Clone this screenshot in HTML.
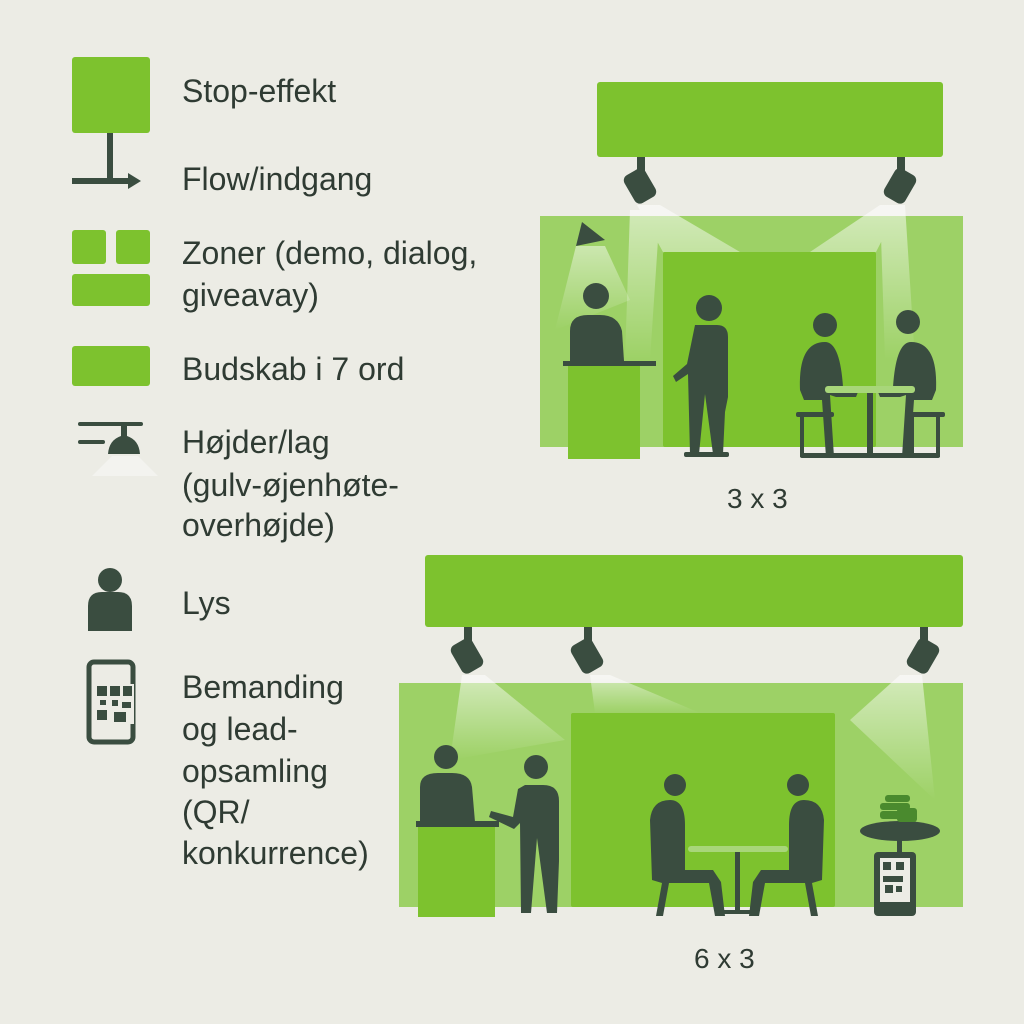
<!DOCTYPE html>
<html><head><meta charset="utf-8"><style>
body{margin:0;background:#ecece5;}
svg{display:block}
text{font-family:"Liberation Sans",sans-serif;fill:#2f3b33}
</style></head><body>
<svg width="1024" height="1024" viewBox="0 0 1024 1024">
<defs>
<linearGradient id="cone" x1="0" y1="0" x2="0" y2="1"><stop offset="0" stop-color="#fff" stop-opacity="0.8"/><stop offset="1" stop-color="#fff" stop-opacity="0"/></linearGradient>
</defs>
<rect width="1024" height="1024" fill="#ecece5"/>
<rect x="72" y="57" width="78" height="76" rx="3" fill="#7dc22e"/>
<rect x="107" y="133" width="6" height="48" fill="#3a4d40"/>
<rect x="72" y="178" width="58" height="6" fill="#3a4d40"/>
<path d="M128 173 L141 181 L128 189Z" fill="#3a4d40"/>
<rect x="72" y="230" width="34" height="34" rx="3" fill="#7dc22e"/>
<rect x="116" y="230" width="34" height="34" rx="3" fill="#7dc22e"/>
<rect x="72" y="274" width="78" height="32" rx="3" fill="#7dc22e"/>
<rect x="72" y="346" width="78" height="40" rx="3" fill="#7dc22e"/>
<rect x="78" y="422" width="65" height="4" rx="2" fill="#3a4d40"/>
<rect x="78" y="440" width="27" height="4" rx="2" fill="#3a4d40"/>
<path d="M121 426 h6 v10 q12 4 13 18 h-32 q1-14 13-18z" fill="#3a4d40"/>
<path d="M112 456 h26 l20 20 h-66z" fill="#fff" opacity="0.4"/>
<circle cx="110" cy="580" r="12" fill="#3a4d40"/>
<path d="M88 631 v-25 q0-14 14-14 h16 q14 0 14 14 v25z" fill="#3a4d40"/>
<rect x="89" y="662" width="44" height="80" rx="5" fill="none" stroke="#3a4d40" stroke-width="5"/>
<rect x="96" y="684" width="38" height="40" fill="#ecece5"/>
<g fill="#3a4d40"><rect x="97" y="686" width="10" height="10"/><rect x="110" y="686" width="10" height="10"/><rect x="123" y="686" width="9" height="10"/><rect x="97" y="710" width="10" height="10"/><rect x="112" y="700" width="6" height="6"/><rect x="122" y="702" width="9" height="6"/><rect x="114" y="712" width="12" height="10"/><rect x="100" y="700" width="6" height="5"/></g>
<rect x="106" y="734" width="10" height="3" fill="#ecece5"/>
<g font-size="32">
<text x="182" y="102">Stop-effekt</text>
<text x="182" y="190">Flow/indgang</text>
<text x="182" y="264">Zoner (demo, dialog,</text>
<text x="182" y="306">giveavay)</text>
<text x="182" y="380">Budskab i 7 ord</text>
<text x="182" y="453">Højder/lag</text>
<text x="182" y="496">(gulv-øjenhøte-</text>
<text x="182" y="536">overhøjde)</text>
<text x="182" y="614">Lys</text>
<text x="182" y="698">Bemanding</text>
<text x="182" y="740">og lead-</text>
<text x="182" y="782">opsamling</text>
<text x="182" y="823">(QR/</text>
<text x="182" y="864">konkurrence)</text>
</g>
<text x="727" y="508" font-size="28">3 x 3</text>
<text x="694" y="968" font-size="28">6 x 3</text>

<rect x="597" y="82" width="346" height="75" rx="3" fill="#7dc22e"/>
<rect x="540" y="216" width="423" height="231" fill="#9dd166"/>
<rect x="663" y="252" width="213" height="195" rx="2" fill="#7dc22e"/>
<path d="M637 205 L660 205 L740 252 L663 252 Z M630 210 L660 210 L650 360 L625 360Z" fill="url(#cone)" opacity="0.7"/>
<path d="M880 205 L905 205 L915 360 L885 360Z M880 205 L900 205 L876 252 L810 252Z" fill="url(#cone)" opacity="0.7"/>
<path d="M576 246 L605 246 L630 300 L555 330Z" fill="url(#cone)" opacity="0.6"/>
<g fill="#3a4d40">
<rect x="637" y="157" width="8" height="14"/>
<rect x="628" y="170" width="24" height="32" rx="6" transform="rotate(-30 640 186)"/>
<rect x="897" y="157" width="8" height="14"/>
<rect x="888" y="170" width="24" height="32" rx="6" transform="rotate(30 900 186)"/>
<path d="M582 222 L605 240 L576 246Z"/>
<circle cx="596" cy="296" r="13"/>
<path d="M570 361 v-30 q0-16 18-16 h12 q18 0 22 16 l2 30z"/>
<rect x="563" y="361" width="93" height="5"/>
<circle cx="709" cy="308" r="13"/>
<path d="M695 325 h22 q11 0 11 12 v60 l-3 15 l-2 42 h-10 l-8-60 l-6 60 h-9 l-2-80 l-12 8 l-3-6 l14-12z"/>
<circle cx="825" cy="325" r="12"/>
<path d="M800 390 q-2-48 25-48 q15 0 18 45 l15 5 l-2 5 h-20 l-6 -2 l4 62 h-8 l-4-57 h-18z"/>
<circle cx="908" cy="322" r="12"/>
<path d="M936 390 q2-48-25-48 q-15 0-18 45 l-15 5 l2 5 h20 l6-2 l-4 62 h8 l4-57 h18z"/>
<rect x="867" y="392" width="6" height="64"/>
<rect x="796" y="412" width="38" height="5" rx="2"/><rect x="800" y="415" width="4" height="42"/><rect x="826" y="415" width="4" height="42"/>
<rect x="905" y="412" width="40" height="5" rx="2"/><rect x="910" y="415" width="4" height="42"/><rect x="936" y="415" width="4" height="42"/>
<rect x="800" y="453" width="140" height="5" rx="2"/>
<rect x="684" y="452" width="45" height="5" rx="2"/>
</g>
<rect x="568" y="366" width="72" height="93" fill="#7dc22e"/>
<rect x="825" y="386" width="90" height="7" rx="3" fill="#a8d67a"/>

<rect x="425" y="555" width="538" height="72" rx="3" fill="#7dc22e"/>
<rect x="399" y="683" width="564" height="224" fill="#9dd166"/>
<rect x="571" y="713" width="264" height="194" rx="2" fill="#7dc22e"/>
<path d="M462 675 L485 675 L565 740 L450 760Z" fill="url(#cone)" opacity="0.7"/>
<path d="M590 675 L610 675 L700 713 L595 713Z" fill="url(#cone)" opacity="0.7"/>
<path d="M900 675 L922 675 L935 800 L850 720Z" fill="url(#cone)" opacity="0.7"/>
<g fill="#3a4d40">
<rect x="464" y="627" width="8" height="16"/>
<rect x="455" y="640" width="24" height="32" rx="6" transform="rotate(-30 467 656)"/>
<rect x="584" y="627" width="8" height="16"/>
<rect x="575" y="640" width="24" height="32" rx="6" transform="rotate(-30 587 656)"/>
<rect x="920" y="627" width="8" height="16"/>
<rect x="911" y="640" width="24" height="32" rx="6" transform="rotate(30 923 656)"/>
<circle cx="446" cy="757" r="12"/>
<path d="M420 822 v-35 q0-14 18-14 h14 q18 0 20 14 l3 35z"/>
<rect x="416" y="821" width="83" height="6"/>
<circle cx="536" cy="767" r="12"/>
<path d="M525 785 h18 q16 0 16 16 v60 l-2 52 h-10 l-10-75 l-6 75 h-10 l-1-90 l-6 6 l-25-12 l2-6 l22 6 l5-28z"/>
<circle cx="675" cy="785" r="11"/>
<path d="M652 880 l-2-60 q2-20 20-20 q15 0 15 25 v45 h28 l8 12 l4 34 h-10 l-6-33 h-40l-6 33 h-7l6-33z"/>
<circle cx="798" cy="785" r="11"/>
<path d="M822 880 l2-60 q-2-20-20-20 q-15 0-15 25 v45 h-28 l-8 12 l-4 34 h10 l6-33 h40l6 33 h7l-6-33z"/>
<rect x="735" y="850" width="5" height="62"/>
<rect x="720" y="910" width="35" height="4"/>
<ellipse cx="900" cy="831" rx="40" ry="10"/>
<rect x="897" y="836" width="5" height="20"/>
<rect x="874" y="852" width="42" height="64" rx="4"/>
</g>
<rect x="418" y="827" width="77" height="90" fill="#7dc22e"/>
<rect x="688" y="846" width="100" height="6" rx="3" fill="#a8d67a"/>
<rect x="880" y="858" width="30" height="44" fill="#ecece5"/>
<g fill="#3a4d40"><rect x="883" y="862" width="8" height="8"/><rect x="896" y="862" width="8" height="8"/><rect x="883" y="876" width="20" height="6"/><rect x="885" y="885" width="8" height="8"/><rect x="896" y="886" width="6" height="6"/></g>
<g fill="#4a8a2e"><rect x="885" y="795" width="25" height="7" rx="3"/><rect x="880" y="803" width="30" height="7" rx="3"/><rect x="880" y="811" width="30" height="8" rx="3"/><rect x="897" y="808" width="20" height="14" rx="3"/></g>
</svg>
</body></html>
